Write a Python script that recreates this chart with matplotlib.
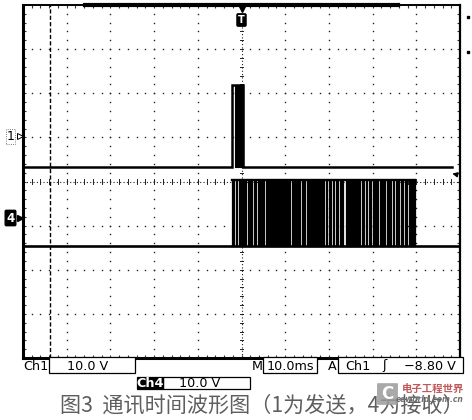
import matplotlib
matplotlib.use('Agg')
import matplotlib.pyplot as plt
from matplotlib.patches import Rectangle, FancyBboxPatch
from matplotlib.lines import Line2D
from matplotlib.ticker import MultipleLocator
import numpy as np

W, H = 472, 420

# ---------------- data (time in ms, vertical in divisions) ----------------
x_range = (-50, 50)          # 10 ms/div, 10 divisions
y_range = (-4, 4)            # 8 divisions

ch1_low = 0.33
ch1_high = 2.19
ch1_span = (-49.5, 48.2)
ch1_pulse = (-2.11, 0.35)
ch1_dense = [(-1.40, -0.62), (-0.32, 0.35)]

ch4_low = -1.46
ch4_high = 0.03
ch4_span = (-49.5, 49.8)
ch4_burst = [(-2.11, -1.65), (-1.26, -0.96), (-0.57, 0.05), (0.41, 0.96),
             (1.42, 2.33), (2.79, 3.25), (3.84, 4.46), (4.76, 5.22),
             (5.54, 6.00), (6.36, 6.75), (7.05, 10.34), (10.71, 11.10),
             (11.49, 12.63), (12.86, 13.39), (13.78, 14.53), (14.92, 16.06),
             (16.20, 18.88), (19.34, 19.63), (20.09, 20.41), (20.87, 21.17),
             (21.62, 22.15), (22.54, 23.30), (23.91, 27.12), (27.50, 28.03),
             (28.49, 28.79), (29.24, 29.56), (30.02, 31.30), (31.69, 32.84),
             (33.23, 34.14), (34.60, 34.90), (35.35, 35.97), (36.43, 37.03),
             (37.41, 37.94), (38.40, 39.70)]

cursor_t = -43.8
trig_level = 0.19
trig_pos = 0.0

ch1_label = "1"
ch4_label = "4"
trig_label = "T"

row1_labels = ["Ch1", "10.0 V", "M", "10.0ms", "A", "Ch1", "ʃ", "−8.80 V"]
row2_labels = ["Ch4", "10.0 V"]
caption = "图3  通讯时间波形图（1为发送，4为接收）"
wm_title = "电子工程世界"
wm_sub = "eeworld.com.cn"

# ---------------- helpers ----------------
def fx(x):
    return x / W

def fy(y):
    return 1 - y / H

plt.rcParams['font.family'] = ['DejaVu Sans']

fig = plt.figure(figsize=(W / 100, H / 100), dpi=100)
ax = fig.add_axes([fx(23), fy(358), 437 / W, 353 / H])
ax.set_xlim(*x_range)
ax.set_ylim(*y_range)

# frame
for side, lw in [('left', 2.2), ('bottom', 2.2), ('right', 1.6), ('top', 1.4)]:
    ax.spines[side].set_linewidth(lw)
    ax.spines[side].set_color('black')

ax.xaxis.set_major_locator(MultipleLocator(10))
ax.xaxis.set_minor_locator(MultipleLocator(2))
ax.yaxis.set_major_locator(MultipleLocator(1))
ax.yaxis.set_minor_locator(MultipleLocator(0.2))
ax.tick_params(which='both', direction='in', length=2.2, width=0.8,
               top=True, right=True, labelbottom=False, labelleft=False,
               color='#333333')

# grid dots
xs_fine = np.arange(x_range[0], x_range[1] + 0.001, 2)
ys_fine = np.arange(y_range[0], y_range[1] + 0.001, 0.2)
for gx in range(-40, 41, 10):
    if gx == 0:
        continue
    ax.plot(np.full_like(ys_fine, gx), ys_fine, ls='none', marker='s',
            ms=1.0, color='#222222', mew=0)
for gy in range(-3, 4):
    if gy == 0:
        continue
    ax.plot(xs_fine, np.full_like(xs_fine, gy), ls='none', marker='s',
            ms=1.0, color='#222222', mew=0)

# center cross with ticks
ax.plot([0, 0], list(y_range), ls=(0, (1, 2)), lw=0.8, color='#222222')
ax.plot(list(x_range), [0, 0], ls=(0, (1, 2)), lw=0.8, color='#222222')
for yy in ys_fine:
    ax.plot([-0.45, 0.45], [yy, yy], lw=0.7, color='#222222')
for xx in xs_fine:
    ax.plot([xx, xx], [-0.05, 0.05], lw=0.7, color='#222222')

# cursor dashed line
ax.axvline(cursor_t, ls=(0, (3, 1.6)), lw=1.0, color='black')

# ---- channel 1 ----
p0, p1 = ch1_pulse
ax.plot([ch1_span[0], p0, p0, p1, p1, ch1_span[1]],
        [ch1_low, ch1_low, ch1_high, ch1_high, ch1_low, ch1_low],
        color='black', lw=1.8, solid_joinstyle='miter', zorder=5)
for a, b in ch1_dense:
    ax.fill_between([a, b], ch1_low, ch1_high, facecolor='black', lw=0.8,
                    edgecolor='black', zorder=5)

# ---- channel 4 ----
ax.plot(list(ch4_span), [ch4_low, ch4_low], color='black', lw=1.9, zorder=5)
ax.plot([ch4_burst[0][0], ch4_burst[-1][1]], [ch4_high, ch4_high],
        color='black', lw=1.7, zorder=5)
for a, b in ch4_burst:
    ax.fill_between([a, b], ch4_low, ch4_high, facecolor='black', lw=0.9,
                    edgecolor='black', zorder=5)

# trigger position marker
ax.text(trig_pos, 3.66, trig_label, ha='center', va='center', color='white',
        fontsize=7, fontweight='bold', zorder=8,
        bbox=dict(boxstyle='round,pad=0.12', fc='black', ec='black'))
ax.plot(trig_pos, 3.92, marker='v', ms=4.5, color='black', clip_on=False,
        zorder=8)

# trigger level arrow on right edge
ax.annotate('', xy=(47.6, trig_level), xytext=(49.6, trig_level - 0.04),
            arrowprops=dict(arrowstyle='-|>', color='black', lw=1.0,
                            mutation_scale=7), zorder=8)

# thick record bar on top border
fig.add_artist(Line2D([fx(85), fx(398)], [fy(5), fy(5)], lw=3.0,
                      color='black', transform=fig.transFigure))
# small marks outside right
for yy in (17, 52):
    fig.add_artist(Line2D([fx(468)], [fy(yy)], marker='s', ms=1.6,
                          color='black', transform=fig.transFigure))

# channel markers
fig.text(fx(10.5), fy(136), ch1_label, ha='center', va='center', fontsize=9,
         bbox=dict(boxstyle='square,pad=0.08', fc='white', ec='#555555',
                   lw=0.6, ls=':'))
fig.add_artist(Line2D([fx(19.5)], [fy(136)], marker='>', ms=5, mfc='white',
                      mec='black', mew=0.7, transform=fig.transFigure))
fig.text(fx(10.5), fy(218), ch4_label, ha='center', va='center', fontsize=8.5,
         color='white', fontweight='bold',
         bbox=dict(boxstyle='round,pad=0.1', fc='black', ec='black'))
fig.add_artist(Line2D([fx(19.5)], [fy(218)], marker='>', ms=5,
                      color='black', transform=fig.transFigure))

# ---------------- readout ----------------
def box(x0, y0, x1, y1, fc='white'):
    fig.add_artist(Rectangle((fx(x0), fy(y1)), (x1 - x0) / W, (y1 - y0) / H,
                             transform=fig.transFigure, fc=fc, ec='black',
                             lw=0.9))

box(49, 357, 135, 373)
box(263, 357, 317, 373)
box(338, 357, 463, 373)
box(163, 377, 250, 389)
box(137, 377, 163, 389, fc='black')

fs = 9.2
r1_y = 366
fig.text(fx(23), fy(r1_y), row1_labels[0], ha='left', va='center', fontsize=fs)
fig.text(fx(88), fy(r1_y), row1_labels[1], ha='center', va='center', fontsize=fs)
fig.text(fx(257.5), fy(r1_y), row1_labels[2], ha='center', va='center', fontsize=fs)
fig.text(fx(290), fy(r1_y), row1_labels[3], ha='center', va='center', fontsize=fs)
fig.text(fx(332.5), fy(r1_y), row1_labels[4], ha='center', va='center', fontsize=fs)
fig.text(fx(357.5), fy(r1_y), row1_labels[5], ha='center', va='center', fontsize=fs)
fig.text(fx(384), fy(r1_y), row1_labels[6], ha='center', va='center', fontsize=fs)
fig.text(fx(430), fy(r1_y), row1_labels[7], ha='center', va='center', fontsize=fs)

r2_y = 383.5
fig.text(fx(150), fy(r2_y), row2_labels[0], ha='center', va='center',
         fontsize=fs, color='white', fontweight='bold')
fig.text(fx(200), fy(r2_y), row2_labels[1], ha='center', va='center', fontsize=fs)

# caption
fig.text(fx(60), fy(406), caption, ha='left', va='center', fontsize=15.2,
         color='#5e5e5e', family=['Noto Sans CJK SC', 'DejaVu Sans'])

# watermark
fig.add_artist(FancyBboxPatch((fx(378), fy(404)), 19 / W, 20 / H,
                              boxstyle='round,pad=0.002',
                              transform=fig.transFigure, fc='#9a9a9a',
                              ec='none', alpha=0.85, zorder=10))
fig.text(fx(387.5), fy(394), 'C', ha='center', va='center', fontsize=12,
         color='white', fontweight='bold', zorder=11)
fig.text(fx(433), fy(389), wm_title, ha='center', va='center', fontsize=7.5,
         color='#c05a5a', zorder=11, family=['Noto Sans CJK SC', 'DejaVu Sans'],
         fontweight='bold')
fig.text(fx(430), fy(400), wm_sub, ha='center', va='center', fontsize=5.5,
         color='#707070', zorder=11, fontweight='bold', fontstyle='italic')

fig.savefig('out.png', dpi=100)
